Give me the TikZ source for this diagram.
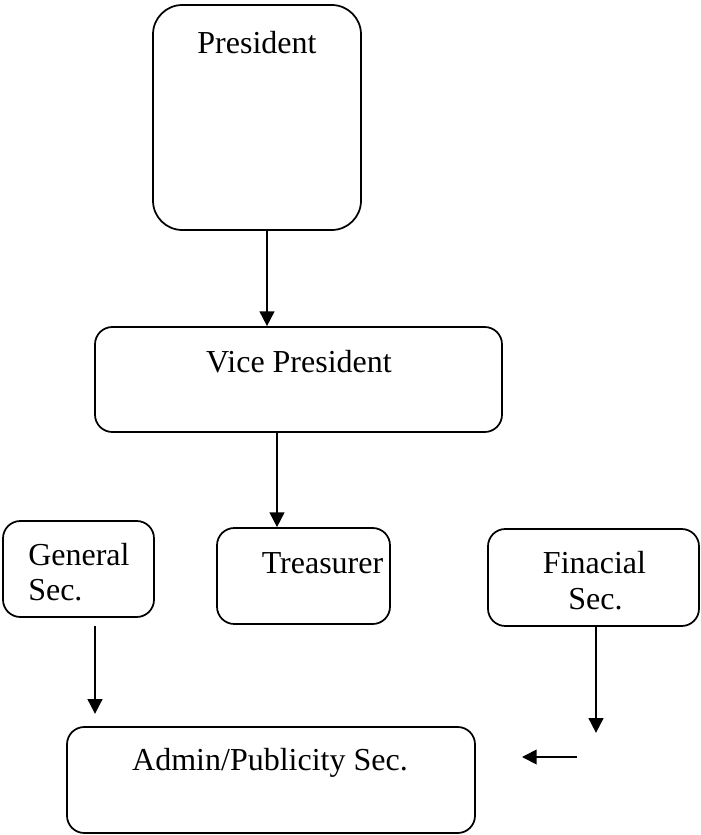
\documentclass[tikz,border=0pt]{standalone}
\usepackage{fontspec}
\setmainfont{Liberation Serif}
\usetikzlibrary{arrows.meta}
\begin{document}
\begin{tikzpicture}[x=0.75pt,y=-0.75pt,
  box/.style={draw,line width=1.3pt,rectangle,inner sep=0pt,rounded corners=13pt},
  lbl/.style={inner sep=0pt,font=\fontsize{24}{29}\selectfont,anchor=base},
  arr/.style={line width=1.4pt,-{Triangle[length=11pt,width=11pt]}}]
\useasboundingbox (0,0) rectangle (700,835);
% boxes
\node[box,rounded corners=22pt,minimum width=156pt,minimum height=168.75pt] (pres) at (257,117.5) {};
\node[box,minimum width=305.25pt,minimum height=78.75pt] (vp) at (298.5,379.5) {};
\node[box,minimum width=129.75pt,minimum height=72pt] (treas) at (303.5,576) {};
\node[box,minimum width=113.25pt,minimum height=72pt] (gen) at (78.5,569) {};
\node[box,minimum width=158.25pt,minimum height=72.75pt] (fin) at (593.5,577.5) {};
\node[box,minimum width=306pt,minimum height=79.5pt] (admin) at (271,780) {};
% texts
\node[lbl] (tpres) at (257,53) {President};
\node[lbl] (tvp) at (299,372) {Vice President};
\node[lbl] (ttreas) at (322.5,573) {Treasurer};
\node[lbl,anchor=base west] (tgen1) at (28,565) {General};
\node[lbl,anchor=base west] (tgen2) at (28,600) {Sec.};
\node[lbl] (tfin1) at (594.5,573) {Finacial};
\node[lbl] (tfin2) at (595.5,609) {Sec.};
\node[lbl] (tadmin) at (270,770) {Admin/Publicity Sec.};
% connectors
\draw[arr] (pres.south) ++(10,0) coordinate (a1) -- (a1 |- vp.north);
\draw[arr] (vp.south) ++(-21.5,0) coordinate (a2) -- (a2 |- treas.north);
\draw[arr] (gen.south) ++(16.5,8) coordinate (g1) -- ++(0,88) coordinate (g2);
\draw[arr] (fin.south) ++(2.5,0) coordinate (f1) -- ++(0,106) coordinate (f2);
\coordinate (l1) at (577,757);
\coordinate (l2) at (522,757);
\draw[arr] (l1) -- (l2);
\end{tikzpicture}
\end{document}
